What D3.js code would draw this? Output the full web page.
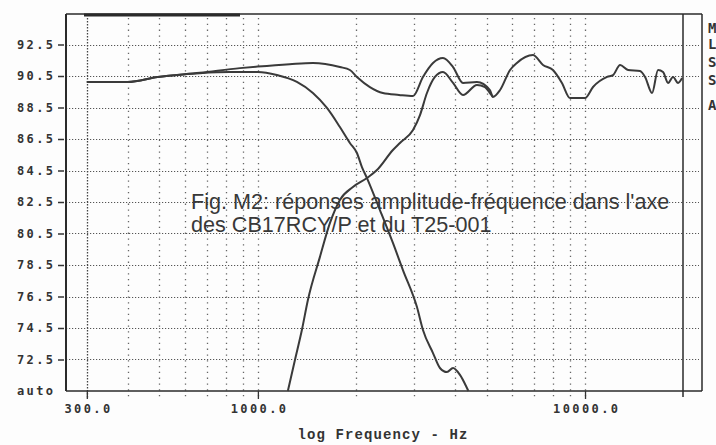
<!DOCTYPE html>
<html>
<head>
<meta charset="utf-8">
<script src="https://cdn.jsdelivr.net/npm/d3@7"></script>
<style>
  html, body { margin: 0; padding: 0; background: #fdfdfd; }
  svg { display: block; }
</style>
</head>
<body>
<svg id="chart" width="716" height="445"></svg>
<script>
// ---------- DATA ----------
const freqGrid = [300, 400, 500, 600, 700, 800, 900, 1000, 2000, 3000, 4000, 5000, 6000, 7000, 8000, 9000, 10000];
const freqLabels = [300, 1000, 10000];
const dbTicks = [92.5, 90.5, 88.5, 86.5, 84.5, 82.5, 80.5, 78.5, 76.5, 74.5, 72.5];
const dbBottom = 70.5;
const bottomLabel = "auto";
const xTitle = "log Frequency - Hz";
const caption = ["Fig. M2: réponses amplitude-fréquence dans l'axe", "des CB17RCY/P et du T25-001"];
const sideLetters = ["M", "L", "S", "S", "A"];

// combined (system) response
const sysFreq = [300, 400, 494, 665, 881, 1000, 1250, 1473, 1781, 1911, 2008, 2200, 2410, 2700, 2980, 3196, 3430, 3680, 3950, 4236, 4675, 5120, 5230, 5500, 5900, 6190, 6930, 7440, 7980, 8500, 9000, 10000, 10580, 11680, 12180, 12800, 13540, 14730, 15260, 16030, 16720, 17320, 17940, 18580, 19250, 19800];
const sysDb   = [90.12, 90.12, 90.44, 90.7, 91.0, 91.1, 91.25, 91.33, 91.07, 90.88, 90.44, 89.8, 89.42, 89.3, 89.23, 90.44, 91.33, 91.64, 91.07, 90.06, 90.12, 89.61, 89.17, 89.61, 90.88, 91.33, 91.83, 91.2, 90.88, 90.06, 89.1, 89.1, 89.8, 90.44, 90.56, 91.2, 90.88, 90.82, 90.44, 89.42, 90.88, 90.75, 90.06, 90.44, 90.06, 90.37];

// woofer CB17RCY/P
const wooFreq = [300, 400, 494, 665, 821, 1000, 1143, 1316, 1473, 1626, 1781, 1911, 2008, 2080, 2155, 2361, 2587, 2776, 3064, 3196, 3430, 3602, 3784, 3950, 4147, 4356, 4400];
const wooDb   = [90.12, 90.12, 90.44, 90.68, 90.75, 90.75, 90.56, 90.12, 89.42, 88.47, 87.26, 86.25, 85.61, 84.72, 84.02, 81.99, 79.9, 78.18, 75.83, 74.37, 72.91, 71.96, 71.7, 71.96, 71.52, 70.69, 70.5];

// tweeter T25-001
const twFreq = [1235, 1298, 1363, 1422, 1547, 1661, 1781, 1952, 2155, 2312, 2587, 2718, 2980, 3130, 3287, 3477, 3680, 3950, 4236, 4675, 4945, 5120, 5230];
const twDb   = [70.5, 72.47, 74.37, 76.28, 79.0, 81.17, 82.63, 83.45, 84.02, 84.53, 85.8, 86.25, 87.07, 88.02, 89.42, 90.44, 90.75, 90.06, 89.29, 89.93, 89.8, 89.42, 89.17];

// ---------- LAYOUT ----------
const L = 66, R = 683, R2 = 702, T = 14, B = 391;
const svg = d3.select("#chart");
const x = d3.scaleLog().domain([260, 20000]).range([66.5, 683.5]);
const y = d3.scaleLinear().domain([dbBottom, 94.5]).range([B, 13]);

const ink = "#333";
const monoFont = "'DejaVu Sans Mono', monospace";

// horizontal grid
const hg = svg.append("g");
hg.selectAll("line.h").data(dbTicks).join("line")
  .attr("x1", L).attr("x2", R)
  .attr("y1", d => Math.round(y(d)) + 0.5).attr("y2", d => Math.round(y(d)) + 0.5)
  .attr("stroke", "#555").attr("stroke-width", 1.2).attr("stroke-dasharray", "1.2,1.8");
hg.selectAll("line.p").data(dbTicks).join("line")
  .attr("x1", R + 3).attr("x2", R2 - 3)
  .attr("y1", d => Math.round(y(d)) + 0.5).attr("y2", d => Math.round(y(d)) + 0.5)
  .attr("stroke", "#555").attr("stroke-width", 1.2).attr("stroke-dasharray", "1.2,1.8");

// vertical grid
svg.append("g").selectAll("line").data(freqGrid).join("line")
  .attr("x1", d => Math.round(x(d)) + 0.5).attr("x2", d => Math.round(x(d)) + 0.5)
  .attr("y1", T + 4).attr("y2", B + 7)
  .attr("stroke", d => d === 300 ? "#444" : "#666")
  .attr("stroke-width", 1.3)
  .attr("stroke-dasharray", d => d === 300 ? "1.5,1.5" : "1.3,4.5");

// frame
const fr = svg.append("g").attr("stroke", "#2a2a2a").attr("fill", "none");
fr.append("line").attr("x1", L).attr("x2", R2).attr("y1", T).attr("y2", T).attr("stroke-width", 1.3);
fr.append("line").attr("x1", 84).attr("x2", 240).attr("y1", T + 1).attr("y2", T + 1).attr("stroke-width", 3);
fr.append("line").attr("x1", L).attr("x2", R2).attr("y1", B).attr("y2", B).attr("stroke-width", 1.6);
fr.append("line").attr("x1", L).attr("x2", L).attr("y1", T).attr("y2", B).attr("stroke-width", 2);
fr.append("line").attr("x1", R).attr("x2", R).attr("y1", T).attr("y2", B + 6).attr("stroke-width", 1.5);
fr.append("line").attr("x1", R2).attr("x2", R2).attr("y1", T).attr("y2", B).attr("stroke-width", 1.5);

// y axis
const yAxis = d3.axisLeft(y)
  .tickValues(dbTicks.concat([dbBottom]))
  .tickSize(6).tickPadding(5)
  .tickFormat(d => d === dbBottom ? bottomLabel : d3.format(".1f")(d));
const ya = svg.append("g").attr("transform", `translate(${L - 2},0)`).call(yAxis);
ya.select(".domain").remove();
ya.selectAll(".tick line").attr("stroke", ink).attr("stroke-width", 1.5)
  .attr("opacity", d => d === dbBottom ? 0 : 1);
ya.selectAll(".tick text")
  .attr("font-family", monoFont).attr("font-weight", "bold").attr("font-size", 12)
  .attr("letter-spacing", "2.4px").attr("fill", ink).attr("dx", "2.4px");

// x axis
const xAxis = d3.axisBottom(x)
  .tickValues(freqLabels)
  .tickSize(8).tickPadding(5)
  .tickFormat(d => d3.format(".1f")(d));
const xa = svg.append("g").attr("transform", `translate(0,${B})`).call(xAxis);
xa.select(".domain").remove();
xa.selectAll(".tick line").attr("stroke", ink).attr("stroke-width", 1.3);
xa.selectAll(".tick text")
  .attr("font-family", monoFont).attr("font-weight", "bold").attr("font-size", 12)
  .attr("letter-spacing", "2.4px").attr("fill", ink).attr("dx", "1.2px");

// x title
svg.append("text").attr("x", 383).attr("y", 439)
  .attr("text-anchor", "middle")
  .attr("font-family", "'Liberation Mono', monospace").attr("font-weight", "bold")
  .attr("font-size", 14).attr("letter-spacing", "1.1px").attr("fill", ink)
  .text(xTitle);

// curves
const line = d3.line().x(d => x(d[0])).y(d => y(d[1])).curve(d3.curveMonotoneX);
const series = [
  d3.zip(sysFreq, sysDb),
  d3.zip(wooFreq, wooDb),
  d3.zip(twFreq, twDb)
];
svg.append("g").selectAll("path").data(series).join("path")
  .attr("d", line).attr("fill", "none")
  .attr("stroke", "#3a3a3a").attr("stroke-width", 2).attr("stroke-linejoin", "round");

// caption
svg.append("g").selectAll("text").data(caption).join("text")
  .attr("x", 191).attr("y", (d, i) => 209 + i * 23)
  .attr("font-family", "'Liberation Sans', Arial, sans-serif")
  .attr("font-size", 21.6).attr("fill", "#383838")
  .text(d => d);

// side letters
const sideY = [28, 44, 62, 80, 105];
svg.append("g").selectAll("text").data(sideLetters).join("text")
  .attr("x", 708).attr("y", (d, i) => sideY[i] + 5)
  .attr("font-family", monoFont).attr("font-weight", "bold").attr("font-size", 14)
  .attr("fill", ink).text(d => d);
</script>
</body>
</html>
